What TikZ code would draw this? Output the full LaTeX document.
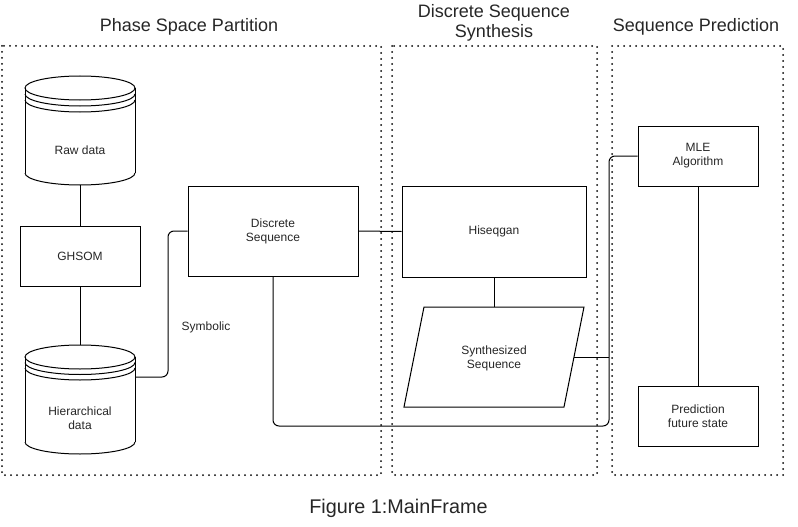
\documentclass[tikz,border=0pt]{standalone}
\usepackage{fontspec}
\setmainfont{Liberation Sans}
\begin{document}
\begin{tikzpicture}[x=1pt,y=-1pt,line width=1pt,
  nodefont/.style={font=\fontsize{12}{14}\selectfont, text=black!85},
  titlefont/.style={font=\fontsize{18}{21}\selectfont, text=black!85, inner sep=0pt},
  procbox/.style={draw, nodefont, align=center, inner sep=0pt},
  ghost/.style={inner sep=0pt, outer sep=0pt},
  lane/.style={line width=2pt, line cap=round, dash pattern=on 0pt off 6pt},
  conn/.style={line width=1pt, rounded corners=6pt}]
\useasboundingbox (0,0) rectangle (798,527);

% lanes
\draw[lane] (2,46) rectangle (381,475);
\draw[lane] (392,46) rectangle (597,475);
\draw[lane] (612,46) rectangle (783,475);

% titles
\node[titlefont, anchor=base] (t1) at (189,31.5) {Phase Space Partition};
\node[titlefont, anchor=base] (t2a) at (494,18) {Discrete Sequence};
\node[titlefont, anchor=base] (t2b) at (494,37.5) {Synthesis};
\node[titlefont, anchor=base] (t3) at (696,31.5) {Sequence Prediction};
\node[titlefont, font=\fontsize{19.8}{22}\selectfont, anchor=base] (cap) at (398.5,513.5) {Figure 1:MainFrame};

% Raw data cylinder
\node[ghost, minimum width=110pt, minimum height=109pt] (raw) at (80,130.5) {};
\draw (25,88) -- (25,173);
\draw (135,88) -- (135,173);
\draw (80,88) ellipse [x radius=55, y radius=12];
\draw (25,94) arc[start angle=180, end angle=0, x radius=55, y radius=12];
\draw (25,100) arc[start angle=180, end angle=0, x radius=55, y radius=12];
\draw (25,173) arc[start angle=180, end angle=0, x radius=55, y radius=12];
\node[nodefont] (rawtxt) at (80,150) {Raw data};

% GHSOM
\node[procbox, minimum width=120pt, minimum height=60pt] (ghsom) at (80,256) {GHSOM};

% Hierarchical data cylinder
\node[ghost, minimum width=110pt, minimum height=109pt] (hier) at (80,399.5) {};
\draw (25,357) -- (25,442);
\draw (135,357) -- (135,442);
\draw (80,357) ellipse [x radius=55, y radius=12];
\draw (25,362.5) arc[start angle=180, end angle=0, x radius=55, y radius=12];
\draw (25,368) arc[start angle=180, end angle=0, x radius=55, y radius=12];
\draw (25,442) arc[start angle=180, end angle=0, x radius=55, y radius=12];
\node[nodefont, align=center] (hiertxt) at (80,418.5) {Hierarchical\\data};
\coordinate (hierR) at (135,377);

% Discrete Sequence
\node[procbox, minimum width=170pt, minimum height=90pt] (disc) at (273,231) {Discrete\\Sequence};

% Hiseqgan
\node[procbox, minimum width=184pt, minimum height=91pt] (hiseq) at (494,231.5) {Hiseqgan};

% Synthesized Sequence (parallelogram)
\draw (424,307) -- (584,307) -- (564,407) -- (404,407) -- cycle;
\node[nodefont, align=center] (syn) at (494,358) {Synthesized\\Sequence};
\coordinate (syntop) at (494,307);
\coordinate (synR) at (574,357);

% MLE and Prediction
\node[procbox, minimum width=120pt, minimum height=60pt] (mle) at (698,156) {MLE\\Algorithm};
\node[procbox, minimum width=120pt, minimum height=60pt] (pred) at (698,416) {Prediction\\future state};

% label
\node[nodefont] (sym) at (206,327) {Symbolic};

% connectors
\coordinate (join) at (609,357);
\coordinate (low) at (273,426);
\coordinate (corner) at (609,426);
\coordinate (up) at (609,156);
\draw (raw.south) -- (ghsom.north);
\draw (ghsom.south) -- (hier.north);
\draw[conn] (hierR) -- ++(33,0) |- (disc.west);
\draw (disc.east) -- (hiseq.west);
\draw (hiseq.south) -- (syntop);
\draw[conn] (disc.south) -- (low) -- (corner) -- (up) -- (mle.west);
\draw (synR) -- (join);
\draw (mle.south) -- (pred.north);
\end{tikzpicture}
\end{document}
